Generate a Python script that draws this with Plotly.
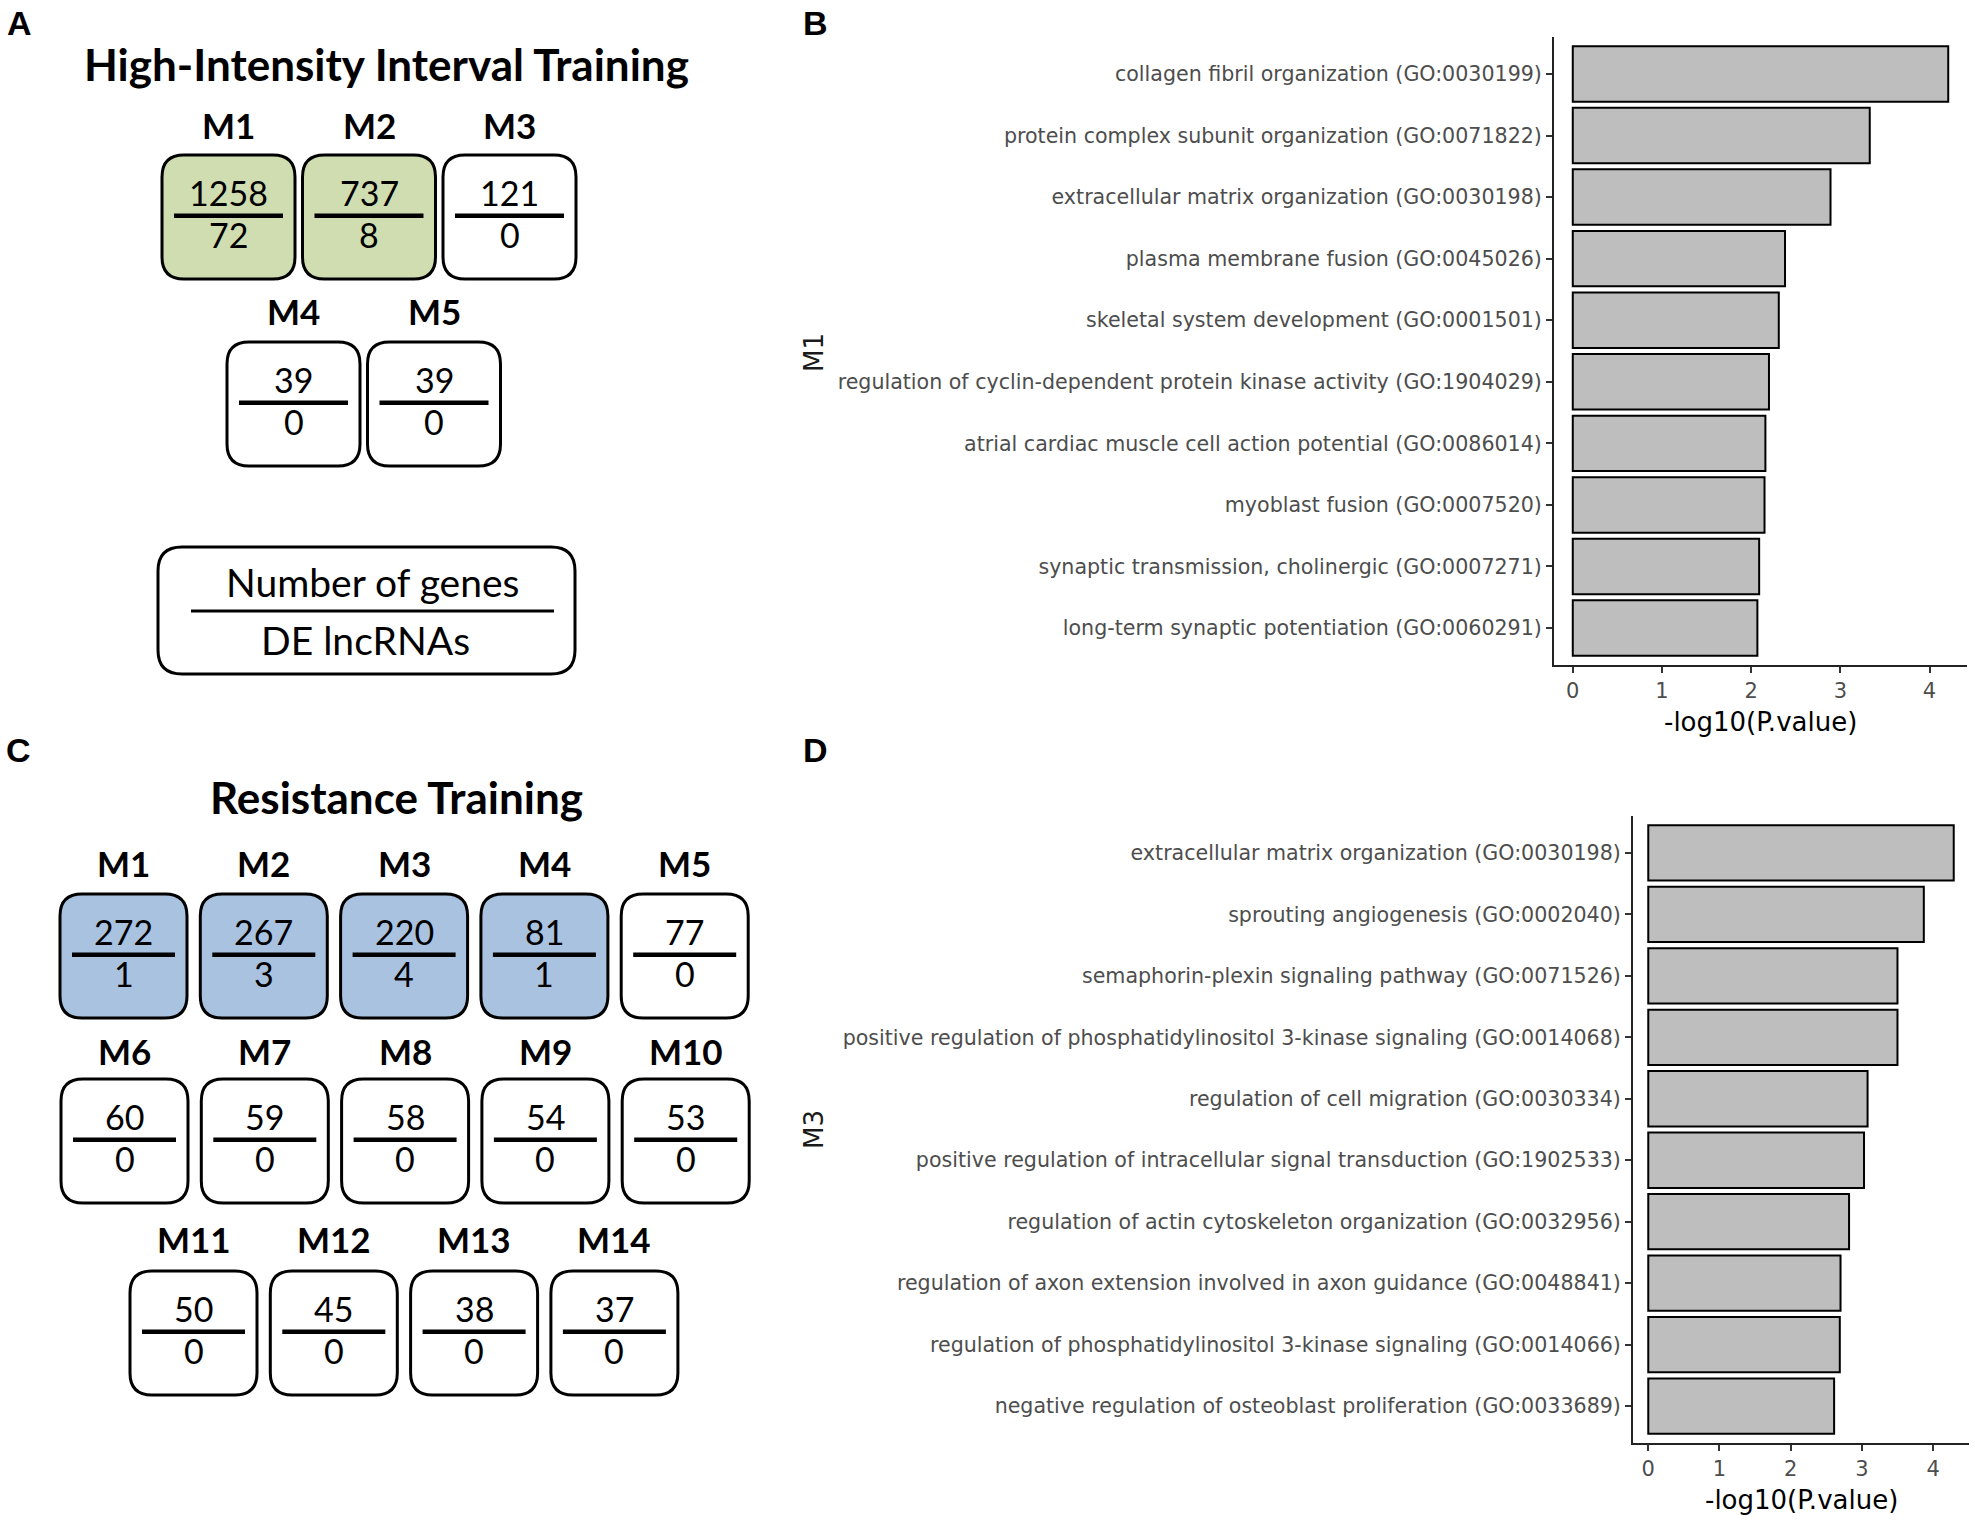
import plotly.graph_objects as go

# ---------------- DATA ----------------
hiit_modules = ["M1", "M2", "M3", "M4", "M5"]
hiit_genes = [1258, 737, 121, 39, 39]
hiit_lnc = [72, 8, 0, 0, 0]

rt_modules = ["M1", "M2", "M3", "M4", "M5", "M6", "M7", "M8", "M9", "M10",
              "M11", "M12", "M13", "M14"]
rt_genes = [272, 267, 220, 81, 77, 60, 59, 58, 54, 53, 50, 45, 38, 37]
rt_lnc = [1, 3, 4, 1, 0, 0, 0, 0, 0, 0, 0, 0, 0, 0]

b_terms = [
    "collagen fibril organization (GO:0030199)",
    "protein complex subunit organization (GO:0071822)",
    "extracellular matrix organization (GO:0030198)",
    "plasma membrane fusion (GO:0045026)",
    "skeletal system development (GO:0001501)",
    "regulation of cyclin-dependent protein kinase activity (GO:1904029)",
    "atrial cardiac muscle cell action potential (GO:0086014)",
    "myoblast fusion (GO:0007520)",
    "synaptic transmission, cholinergic (GO:0007271)",
    "long-term synaptic potentiation (GO:0060291)",
]
b_values = [4.21, 3.33, 2.89, 2.38, 2.31, 2.20, 2.16, 2.15, 2.09, 2.07]

d_terms = [
    "extracellular matrix organization (GO:0030198)",
    "sprouting angiogenesis (GO:0002040)",
    "semaphorin-plexin signaling pathway (GO:0071526)",
    "positive regulation of phosphatidylinositol 3-kinase signaling (GO:0014068)",
    "regulation of cell migration (GO:0030334)",
    "positive regulation of intracellular signal transduction (GO:1902533)",
    "regulation of actin cytoskeleton organization (GO:0032956)",
    "regulation of axon extension involved in axon guidance (GO:0048841)",
    "regulation of phosphatidylinositol 3-kinase signaling (GO:0014066)",
    "negative regulation of osteoblast proliferation (GO:0033689)",
]
d_values = [4.29, 3.87, 3.50, 3.50, 3.08, 3.03, 2.82, 2.70, 2.69, 2.61]

xtick_vals = [0, 1, 2, 3, 4]
x_title = "-log10(P.value)"

# ---------------- LAYOUT HELPERS ----------------
W, H = 1975, 1523


def px(x):
    return x / W


def py(y):
    return 1 - y / H


def rrect_path(x0, y0, x1, y1, r):
    return (f"M {px(x0 + r)},{py(y0)} L {px(x1 - r)},{py(y0)} "
            f"Q {px(x1)},{py(y0)} {px(x1)},{py(y0 + r)} "
            f"L {px(x1)},{py(y1 - r)} "
            f"Q {px(x1)},{py(y1)} {px(x1 - r)},{py(y1)} "
            f"L {px(x0 + r)},{py(y1)} "
            f"Q {px(x0)},{py(y1)} {px(x0)},{py(y1 - r)} "
            f"L {px(x0)},{py(y0 + r)} "
            f"Q {px(x0)},{py(y0)} {px(x0 + r)},{py(y0)} Z")


shapes = []
annotations = []

BOX_FONT = "Lato"
GREEN = "#cfddb0"
BLUE = "#a8c2e0"


def text(x, y, s, size, bold=False, family=BOX_FONT, color="black", angle=0,
         xanchor="center"):
    annotations.append(dict(
        x=px(x), y=py(y), xref="paper", yref="paper", text=f"<b>{s}</b>" if bold else s,
        showarrow=False, xanchor=xanchor, yanchor="middle", textangle=angle,
        font=dict(family=family, size=size, color=color)))


def module_grid(modules, genes, lnc, rows, bw, bh, pitch, hl_color):
    i = 0
    for (n, x_start, y_top, label_y) in rows:
        for k in range(n):
            x0 = x_start + k * pitch
            x1 = x0 + bw
            y0, y1 = y_top, y_top + bh
            fill = hl_color if lnc[i] > 0 else "white"
            shapes.append(dict(type="path", path=rrect_path(x0, y0, x1, y1, 22),
                               xref="paper", yref="paper", fillcolor=fill,
                               line=dict(color="black", width=3)))
            shapes.append(dict(type="line", xref="paper", yref="paper",
                               x0=px(x0 + 12), x1=px(x1 - 12),
                               y0=py(y0 + 0.49 * bh), y1=py(y0 + 0.49 * bh),
                               line=dict(color="black", width=4.5)))
            cx = (x0 + x1) / 2
            text(cx, label_y, modules[i], 35, bold=True)
            text(cx, y0 + 0.305 * bh, str(genes[i]), 34)
            text(cx, y0 + 0.645 * bh, str(lnc[i]), 34)
            i += 1


# ---------------- PANEL A ----------------
text(19, 23, "A", 34, bold=True, family="Liberation Sans")
text(386, 64, "High-Intensity Interval Training", 44, bold=True)
module_grid(hiit_modules, hiit_genes, hiit_lnc,
            rows=[(3, 162, 155, 125), (2, 227, 342, 311)],
            bw=133, bh=124, pitch=140.5, hl_color=GREEN)
# legend box
shapes.append(dict(type="path", path=rrect_path(158, 547, 575, 674, 24),
                   xref="paper", yref="paper", fillcolor="white",
                   line=dict(color="black", width=3)))
shapes.append(dict(type="line", xref="paper", yref="paper",
                   x0=px(191), x1=px(554), y0=py(611), y1=py(611),
                   line=dict(color="black", width=3)))
text(372, 582, "Number of genes", 39)
text(365, 640, "DE lncRNAs", 39)

# ---------------- PANEL C ----------------
text(18, 750, "C", 34, bold=True, family="Liberation Sans")
text(396, 797, "Resistance Training", 44, bold=True)
module_grid(rt_modules, rt_genes, rt_lnc,
            rows=[(5, 60, 894, 863), (5, 61, 1079, 1051), (4, 130, 1271, 1239)],
            bw=127, bh=124, pitch=140.3, hl_color=BLUE)

# ---------------- PANELS B & D ----------------
text(815, 23, "B", 34, bold=True, family="Liberation Sans")
text(815, 750, "D", 34, bold=True, family="Liberation Sans")

fig = go.Figure()
fig.add_trace(go.Bar(y=b_terms, x=b_values, orientation="h", width=0.9,
                     marker=dict(color="#bebebe", line=dict(color="black", width=2)),
                     xaxis="x", yaxis="y", showlegend=False, hoverinfo="x+y"))
fig.add_trace(go.Bar(y=d_terms, x=d_values, orientation="h", width=0.9,
                     marker=dict(color="#bebebe", line=dict(color="black", width=2)),
                     xaxis="x2", yaxis="y2", showlegend=False, hoverinfo="x+y"))

tick_font = dict(family="DejaVu Sans", size=20.6, color="#4d4d4d")
xtick_font = dict(family="DejaVu Sans", size=21, color="#4d4d4d")
common_x = dict(showline=True, linecolor="#222", linewidth=2, ticks="outside",
                ticklen=6, tickwidth=1.6, tickcolor="#333", showgrid=False,
                zeroline=False, tickvals=xtick_vals, tickfont=xtick_font)
common_y = dict(showline=True, linecolor="#222", linewidth=2, ticks="outside",
                ticklen=6, tickwidth=1.6, tickcolor="#333", showgrid=False,
                zeroline=False, tickfont=tick_font, type="category",
                range=[9.6, -0.6])

bmax = max(b_values)
dmax = max(d_values)
fig.update_layout(
    xaxis=dict(domain=[px(1554), px(1967)], anchor="y",
               range=[-0.05 * bmax, 1.05 * bmax], **common_x),
    yaxis=dict(domain=[py(665), py(37)], anchor="x", **common_y),
    xaxis2=dict(domain=[px(1633), px(1969)], anchor="y2",
                range=[-0.05 * dmax, 1.05 * dmax], **common_x),
    yaxis2=dict(domain=[py(1443), py(816)], anchor="x2", **common_y),
)

text(1760, 722, x_title, 26, family="DejaVu Sans", color="black")
text(1801, 1500, x_title, 26, family="DejaVu Sans", color="black")
text(814, 353, "M1", 26, family="DejaVu Sans", color="#1a1a1a", angle=-90)
text(814, 1130, "M3", 26, family="DejaVu Sans", color="#1a1a1a", angle=-90)

fig.update_layout(
    width=W, height=H, margin=dict(l=0, r=0, t=0, b=0),
    paper_bgcolor="white", plot_bgcolor="rgba(0,0,0,0)",
    shapes=shapes, annotations=annotations, showlegend=False,
)

fig.write_html("out.html", config={"displayModeBar": False},
               post_script="document.body.style.margin='0';document.body.style.padding='0';document.body.style.overflow='hidden';")
